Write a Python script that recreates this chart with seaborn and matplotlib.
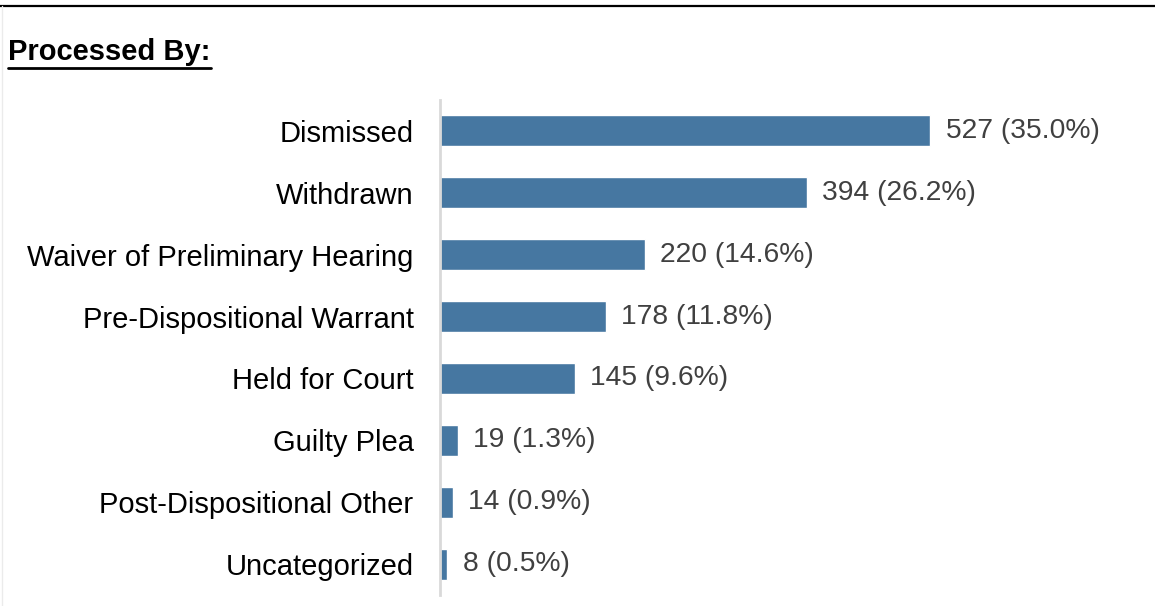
import matplotlib
matplotlib.use("Agg")
import matplotlib.pyplot as plt
import seaborn as sns
import pandas as pd
from matplotlib.lines import Line2D

categories = ["Dismissed", "Withdrawn", "Waiver of Preliminary Hearing",
              "Pre-Dispositional Warrant", "Held for Court", "Guilty Plea",
              "Post-Dispositional Other", "Uncategorized"]
counts = [527, 394, 220, 178, 145, 19, 14, 8]
percents = ["35.0%", "26.2%", "14.6%", "11.8%", "9.6%", "1.3%", "0.9%", "0.5%"]

df = pd.DataFrame({"category": categories, "count": counts})

sns.set_theme(style="white")
plt.rcParams['font.family'] = ['Liberation Sans', 'DejaVu Sans']

W, H, DPI = 1155, 606, 100
fig = plt.figure(figsize=(W / DPI, H / DPI), dpi=DPI)
ax = fig.add_axes([440 / W, 1 - 595 / H, (1150 - 440) / W, (595 - 100) / H])

sns.barplot(data=df, x="count", y="category", orient="h", color="#4677A1",
            saturation=1, width=0.5, ax=ax)

ax.set_xlim(0, 763)
ax.set_ylim(len(categories) - 0.5, -0.5)
ax.set_xlabel("")
ax.set_ylabel("")
ax.set_xticks([])
for s in ["top", "right", "bottom"]:
    ax.spines[s].set_visible(False)
ax.spines["left"].set_color("#D9D9D9")
ax.spines["left"].set_linewidth(2)
ax.tick_params(axis="y", length=0, pad=19, labelsize=21, labelcolor="black")

labels = [f"{c} ({p})" for c, p in zip(counts, percents)]
ax.bar_label(ax.containers[0], labels=labels, padding=11, fontsize=20.3,
             color="#404040")

fig.text(8 / W, 1 - 52 / H, "Processed By:", fontsize=21, fontweight="bold",
         va="center", ha="left", color="black")
# underline
fig.add_artist(Line2D([8 / W, 211 / W], [1 - 67.5 / H, 1 - 67.5 / H],
                      transform=fig.transFigure, color="black", lw=2))
# top border
fig.add_artist(Line2D([0, 1], [1 - 5.5 / H, 1 - 5.5 / H],
                      transform=fig.transFigure, color="black", lw=1.6))
# faint left border
fig.add_artist(Line2D([1.5 / W, 1.5 / W], [0, 1 - 6 / H],
                      transform=fig.transFigure, color="#EBEBEB", lw=1))

fig.savefig("out.png", dpi=DPI)
